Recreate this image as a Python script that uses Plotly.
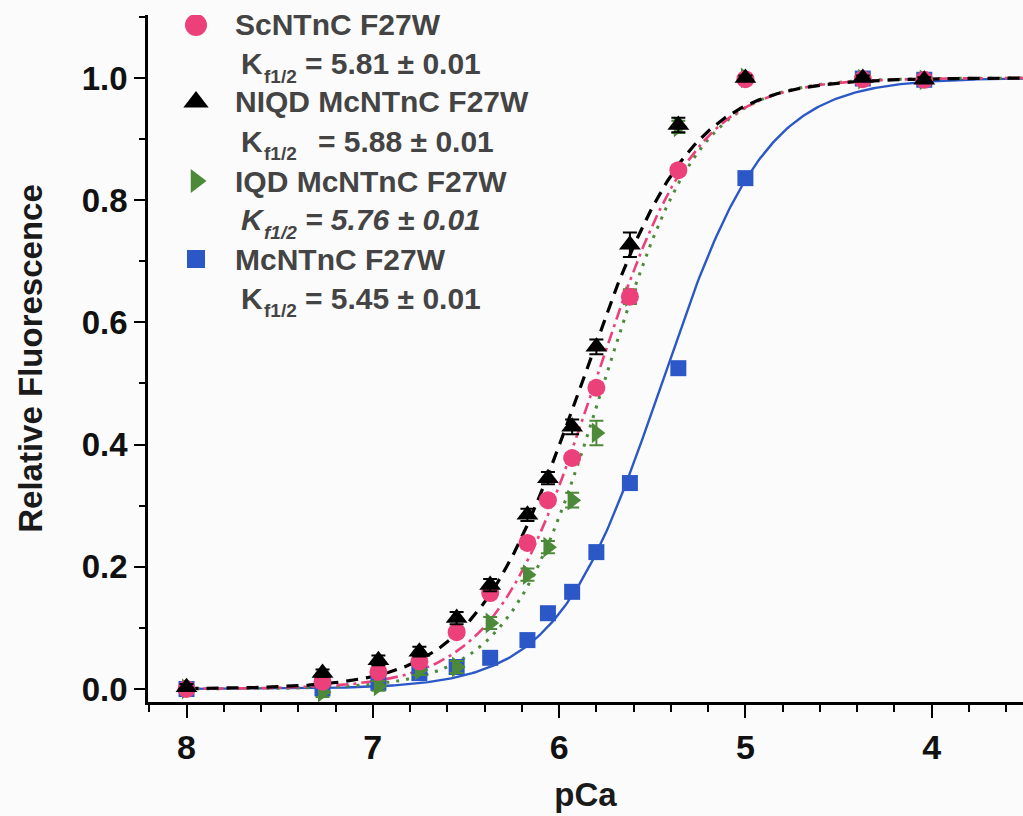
import numpy as np
import plotly.graph_objects as go

# ---------------- data ----------------
pCa = [8.0, 7.27, 6.97, 6.75, 6.55, 6.37, 6.17, 6.06, 5.93, 5.80, 5.62, 5.36, 5.00, 4.37, 4.04]

sc_f27w   = [0.000, 0.012, 0.028, 0.045, 0.093, 0.157, 0.239, 0.309, 0.378, 0.493, 0.642, 0.849, 0.998, 0.998, 0.997]
niqd_f27w = [0.003, 0.026, 0.047, 0.061, 0.116, 0.170, 0.285, 0.345, 0.429, 0.560, 0.727, 0.923, 1.000, 1.000, 0.997]
iqd_f27w  = [0.000, -0.005, 0.005, 0.031, 0.036, 0.108, 0.187, 0.232, 0.309, 0.419, 0.642, 0.920, 1.000, 0.998, 0.997]
mc_f27w   = [0.000, 0.001, 0.010, 0.026, 0.036, 0.051, 0.080, 0.124, 0.159, 0.224, 0.337, 0.525, 0.836, 0.999, 0.997]

sc_err   = [0.005, 0.006, 0.006, 0.006, 0.008, 0.008, 0.008, 0.008, 0.008, 0.008, 0.010, 0.008, 0.004, 0.004, 0.004]
niqd_err = [0.005, 0.006, 0.008, 0.008, 0.010, 0.010, 0.010, 0.010, 0.012, 0.012, 0.020, 0.012, 0.004, 0.004, 0.004]
iqd_err  = [0.005, 0.008, 0.008, 0.008, 0.010, 0.010, 0.010, 0.010, 0.012, 0.020, 0.012, 0.010, 0.004, 0.004, 0.004]
mc_err   = [0.004, 0.004, 0.004, 0.004, 0.005, 0.005, 0.006, 0.006, 0.006, 0.006, 0.006, 0.006, 0.006, 0.004, 0.004]

series_names = ["ScNTnC F27W", "NIQD McNTnC F27W", "IQD McNTnC F27W", "McNTnC F27W"]
k_half      = [5.81, 5.88, 5.76, 5.45]      # Kf1/2 from the legend
k_err       = [0.01, 0.01, 0.01, 0.01]
hill_n      = [1.6, 1.5, 1.7, 1.55]         # Hill coefficients (estimated)

# ---------------- styling ----------------
colors  = ["#EC407A", "#000000", "#4C8A3A", "#2B58C6"]
symbols = ["circle", "triangle-up", "triangle-right", "square"]
msizes  = [18, 19, 18, 16]
dashes  = ["12px,5px,3px,5px", "12px,8px", "3px,7px", "solid"]
lwidths = [2.6, 3.2, 3.0, 2.4]
values  = [sc_f27w, niqd_f27w, iqd_f27w, mc_f27w]
errors  = [sc_err, niqd_err, iqd_err, mc_err]

W, H = 1023, 816
ML, MR, MT, MB = 148, 0, 15, 114
PW, PH = W - ML - MR, H - MT - MB
BG = "#fbfbfb"


def paper_x(px):
    return (px - ML) / PW


def paper_y(py):
    return (H - MB - py) / PH


fig = go.Figure()

# fitted Hill curves
p_fit = np.linspace(8.0, 3.5, 400)
line_order = [3, 2, 0, 1]
for i in line_order:
    y_fit = 1.0 / (1.0 + 10 ** (hill_n[i] * (p_fit - k_half[i])))
    fig.add_trace(go.Scatter(
        x=p_fit, y=y_fit, mode="lines", name=series_names[i] + " fit",
        line=dict(color=colors[i], width=lwidths[i], dash=dashes[i]),
        showlegend=False, hoverinfo="skip"))

# data points
marker_order = [3, 2, 0, 1]
for i in marker_order:
    fig.add_trace(go.Scatter(
        x=pCa, y=values[i], mode="markers", name=series_names[i],
        marker=dict(symbol=symbols[i], size=msizes[i], color=colors[i], line=dict(width=0)),
        error_y=dict(type="data", array=errors[i], visible=True, color=colors[i],
                     thickness=2, width=7),
        showlegend=False))

# ---------------- custom legend ----------------
leg_sym_x = 196
leg_txt_x = 233
leg_k_x = 239
leg_sub_x = 262
leg_eq_x = [303, 316, 303, 303]
leg_rows = [25, 102, 181, 259]
row_gap = 39
sub_drop = 12
leg_sizes = [22, 22, 21, 18]
for j in range(4):
    fig.add_trace(go.Scatter(
        x=[leg_sym_x], y=[leg_rows[j]], xaxis="x2", yaxis="y2", mode="markers",
        marker=dict(symbol=symbols[j], size=leg_sizes[j], color=colors[j]),
        showlegend=False, hoverinfo="skip"))

annos = []
leg_font = dict(family="Liberation Sans", size=30, color="#444444", weight="bold")
sub_font = dict(family="Liberation Sans", size=19, color="#444444", weight="bold")
for j in range(4):
    style = "italic" if j == 2 else "normal"
    f_main = dict(leg_font, style=style)
    f_sub = dict(sub_font, style=style)
    annos.append(dict(x=paper_x(leg_txt_x), y=paper_y(leg_rows[j]), xref="paper", yref="paper",
                      text=series_names[j], showarrow=False, xanchor="left",
                      yanchor="middle", font=leg_font))
    ky = leg_rows[j] + row_gap
    annos.append(dict(x=paper_x(leg_k_x), y=paper_y(ky), xref="paper", yref="paper",
                      text="K", showarrow=False, xanchor="left", yanchor="middle", font=f_main))
    annos.append(dict(x=paper_x(leg_sub_x), y=paper_y(ky + sub_drop), xref="paper", yref="paper",
                      text="f1/2", showarrow=False, xanchor="left", yanchor="middle", font=f_sub))
    annos.append(dict(x=paper_x(leg_eq_x[j]), y=paper_y(ky), xref="paper", yref="paper",
                      text="= %.2f ± %.2f" % (k_half[j], k_err[j]), showarrow=False,
                      xanchor="left", yanchor="middle", font=f_main))

tick_font_x = dict(family="Liberation Sans", size=34, color="#111111", weight="bold")
tick_font_y = dict(family="Liberation Sans", size=33, color="#111111", weight="bold")
title_font = dict(family="Liberation Sans", size=33, color="#1a1a1a", weight="bold")

hidden_axis = dict(showticklabels=False, ticks="", showgrid=False, zeroline=False,
                   showline=False, fixedrange=True)

fig.update_layout(
    width=W, height=H,
    margin=dict(l=ML, r=MR, t=MT, b=MB, pad=0),
    paper_bgcolor=BG, plot_bgcolor=BG,
    showlegend=False,
    annotations=annos,
    xaxis=dict(
        range=[8.2067, 3.510], dtick=1, tick0=0,
        showline=True, linecolor="black", linewidth=2.5,
        ticks="outside", ticklen=13, tickwidth=2.2, tickcolor="black",
        tickfont=tick_font_x, showgrid=False, zeroline=False,
        minor=dict(dtick=0.2, tick0=0, ticks="outside", ticklen=7, tickwidth=2, tickcolor="black", showgrid=False),
        title=dict(text="pCa", font=title_font, standoff=19),
        automargin=False,
    ),
    yaxis=dict(
        range=[-0.0213, 1.103], dtick=0.2, tick0=0, tickformat=".1f",
        showline=True, linecolor="black", linewidth=2.5,
        ticks="outside", ticklen=11, tickwidth=2.2, tickcolor="black",
        tickfont=tick_font_y, showgrid=False, zeroline=False,
        minor=dict(dtick=0.1, tick0=0, ticks="outside", ticklen=6, tickwidth=2, tickcolor="black", showgrid=False),
        title=dict(text="Relative Fluorescence", font=title_font, standoff=30),
        automargin=False,
    ),
    xaxis2=dict(overlaying="x", range=[ML, W - MR], **hidden_axis),
    yaxis2=dict(overlaying="y", range=[H - MB, MT], **hidden_axis),
)

fig.write_html("out.html")
